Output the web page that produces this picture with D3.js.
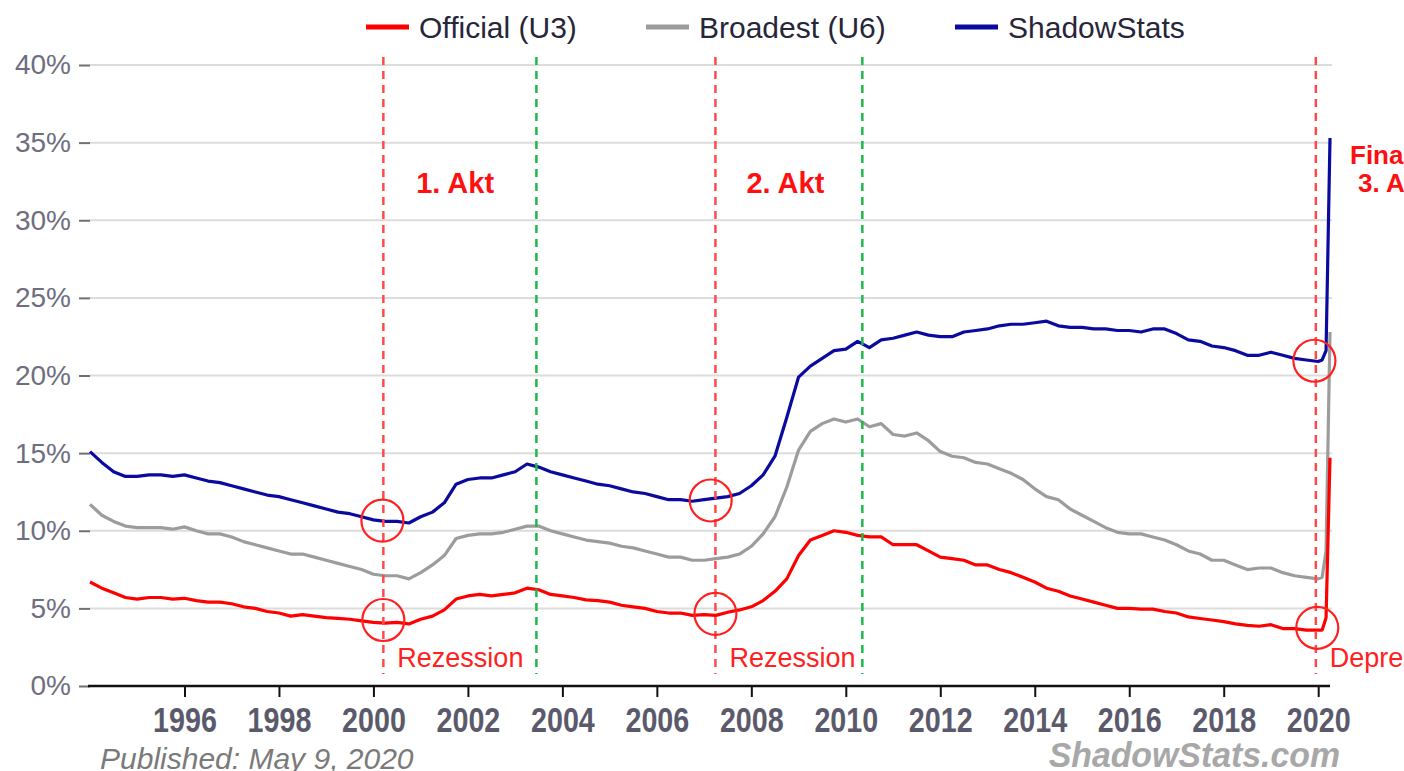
<!DOCTYPE html>
<html>
<head>
<meta charset="utf-8">
<script src="https://cdn.jsdelivr.net/npm/d3@7"></script>
<style>
  body { margin: 0; background: #fff; }
  svg { display: block; }
</style>
</head>
<body>
<svg id="chart" width="1404" height="771"></svg>
<script>
// series names, as in the legend
const seriesNames = ['Official (U3)', 'Broadest (U6)', 'ShadowStats']

// quarterly readings 1994 Q1 .. 2019 Q4, then the monthly values of 2020 (Jan..Apr)
const u3 = [
  6.7, 6.3, 6.0, 5.7,   5.6, 5.7, 5.7, 5.6,   5.65, 5.5, 5.4, 5.4,  5.3, 5.1, 5.0, 4.8,
  4.7, 4.5, 4.6, 4.5,   4.4, 4.35, 4.3, 4.2,  4.1, 4.05, 4.1, 4.0,  4.3, 4.5, 4.9, 5.6,
  5.8, 5.9, 5.8, 5.9,   6.0, 6.3, 6.2, 5.9,   5.8, 5.7, 5.55, 5.5,  5.4, 5.2, 5.1, 5.0,
  4.8, 4.7, 4.7, 4.55,  4.6, 4.55, 4.75, 4.9, 5.1, 5.5, 6.1, 6.9,   8.4, 9.4, 9.7, 10.0,
  9.9, 9.7, 9.6, 9.6,   9.1, 9.1, 9.1, 8.7,   8.3, 8.2, 8.1, 7.8,   7.8, 7.5, 7.3, 7.0,
  6.7, 6.3, 6.1, 5.8,   5.6, 5.4, 5.2, 5.0,   5.0, 4.95, 4.95, 4.8, 4.7, 4.45, 4.35, 4.25,
  4.15, 4.0, 3.9, 3.85, 3.95, 3.7, 3.7, 3.6,
  3.6, 3.6, 4.4, 14.7
]
const u6 = [
  11.7, 11.0, 10.6, 10.3, 10.2, 10.2, 10.2, 10.1, 10.25, 10.0, 9.8, 9.8,  9.6, 9.3, 9.1, 8.9,
  8.7, 8.5, 8.5, 8.3,     8.1, 7.9, 7.7, 7.5,     7.2, 7.1, 7.1, 6.9,      7.3, 7.8, 8.4, 9.5,
  9.7, 9.8, 9.8, 9.9,     10.1, 10.3, 10.3, 10.0, 9.8, 9.6, 9.4, 9.3,      9.2, 9.0, 8.9, 8.7,
  8.5, 8.3, 8.3, 8.1,     8.1, 8.2, 8.3, 8.5,     9.0, 9.8, 10.9, 12.8,    15.2, 16.4, 16.9, 17.2,
  17.0, 17.2, 16.7, 16.9, 16.2, 16.1, 16.3, 15.8, 15.1, 14.8, 14.7, 14.4,  14.3, 14.0, 13.7, 13.3,
  12.7, 12.2, 12.0, 11.4, 11.0, 10.6, 10.2, 9.9,  9.8, 9.8, 9.6, 9.4,      9.1, 8.7, 8.5, 8.1,
  8.1, 7.8, 7.5, 7.6,     7.6, 7.3, 7.1, 7.0,
  6.9, 7.0, 8.7, 22.8
]
const shadow = [
  15.1, 14.4, 13.8, 13.5, 13.5, 13.6, 13.6, 13.5, 13.6, 13.4, 13.2, 13.1,  12.9, 12.7, 12.5, 12.3,
  12.2, 12.0, 11.8, 11.6, 11.4, 11.2, 11.1, 10.9, 10.7, 10.6, 10.6, 10.5,  10.9, 11.2, 11.8, 13.0,
  13.3, 13.4, 13.4, 13.6, 13.8, 14.3, 14.1, 13.8, 13.6, 13.4, 13.2, 13.0,  12.9, 12.7, 12.5, 12.4,
  12.2, 12.0, 12.0, 11.9, 12.0, 12.1, 12.2, 12.4, 12.9, 13.6, 14.8, 17.3,  19.9, 20.6, 21.1, 21.6,
  21.7, 22.2, 21.8, 22.3, 22.4, 22.6, 22.8, 22.6, 22.5, 22.5, 22.8, 22.9,  23.0, 23.2, 23.3, 23.3,
  23.4, 23.5, 23.2, 23.1, 23.1, 23.0, 23.0, 22.9, 22.9, 22.8, 23.0, 23.0,  22.7, 22.3, 22.2, 21.9,
  21.8, 21.6, 21.3, 21.3, 21.5, 21.3, 21.1, 21.0,
  20.9, 21.0, 21.6, 35.3
]

// dates: quarters from 1994 to 2019, then Jan..Apr 2020
const monthDates2020 = [2020.0, 2020 + 1 / 12, 2020 + 2 / 12, 2020.25]
const dates = d3.range(104).map(i => 1994 + i / 4).concat(monthDates2020)

const xTicks = [1996, 1998, 2000, 2002, 2004, 2006, 2008, 2010, 2012, 2014, 2016, 2018, 2020]
const yTicks = [0, 5, 10, 15, 20, 25, 30, 35, 40]

// recessions (red dashed) and turning points (green dashed)
const recessionDates = [2000.21, 2007.24, 2019.95]
const recessionLabels = ['Rezession', 'Rezession', 'Depression']
const turnDates = [2003.45, 2010.35]

// circled points: [date, value]
const circleDates = [2000.19, 2000.21, 2007.14, 2007.24, 2019.92, 2019.98]
const circleValues = [10.65, 4.25, 11.95, 4.65, 20.95, 3.75]

const actLabels = ['1. Akt', '2. Akt']
const actDates = [2001.73, 2008.72]

const svg = d3.select('#chart')

const x = d3.scaleLinear().domain([1994, 2020.25]).range([90, 1330])
const y = d3.scaleLinear().domain([0, 40]).range([686, 65])

const colors = ['#ff0000', '#9c9c9c', '#0a0a9e']

// grid lines
svg.append('g')
  .selectAll('line')
  .data(yTicks.filter(t => t > 0))
  .enter().append('line')
  .attr('x1', x(1994)).attr('x2', x(2020.25) + 2)
  .attr('y1', d => y(d)).attr('y2', d => y(d))
  .attr('stroke', '#dcdcdc')
  .attr('stroke-width', 2)

// y axis: short tick + label
const yAxis = d3.axisLeft(y).tickValues(yTicks).tickSize(11).tickPadding(8).tickFormat(d => d + '%')
const yG = svg.append('g').attr('transform', `translate(${x(1994)},0)`).call(yAxis)
yG.select('.domain').remove()
yG.selectAll('line').attr('stroke', '#707070').attr('stroke-width', 2)
yG.selectAll('text')
  .attr('font-family', '"Liberation Sans", Arial, sans-serif')
  .attr('font-size', 28)
  .attr('fill', '#6e6e80')

// x axis (condensed bold labels)
const xAxis = d3.axisBottom(x).tickValues(xTicks).tickSize(11).tickPadding(10).tickFormat(d3.format('d'))
const xG = svg.append('g').attr('transform', `translate(0,${y(0)})`).call(xAxis)
xG.select('.domain').attr('stroke', '#111').attr('stroke-width', 2.5)
  .attr('d', `M${x(1994) - 2},0H${x(2020.25)}`)
xG.selectAll('line').attr('stroke', '#111').attr('stroke-width', 2)
xG.selectAll('text')
  .attr('font-family', '"Liberation Sans", Arial, sans-serif')
  .attr('font-weight', 'bold')
  .attr('font-size', 35)
  .attr('transform', 'scale(0.82,1)')
  .attr('fill', '#5a5a6c')

// the three series, U6 first so the others sit on top
const line = d3.line().x((d, i) => x(dates[i])).y(d => y(d))
const seriesData = [u3, u6, shadow]
const drawOrder = [1, 0, 2]
drawOrder.forEach(k => {
  svg.append('path')
    .datum(seriesData[k])
    .attr('d', line)
    .attr('fill', 'none')
    .attr('stroke', colors[k])
    .attr('stroke-width', 3.2)
    .attr('stroke-linejoin', 'round')
})

// dashed vertical markers
svg.append('g').selectAll('line')
  .data(recessionDates)
  .enter().append('line')
  .attr('x1', d => x(d)).attr('x2', d => x(d))
  .attr('y1', 57).attr('y2', 674)
  .attr('stroke', '#ff4a4a')
  .attr('stroke-width', 2.5)
  .attr('stroke-dasharray', '8,6')

svg.append('g').selectAll('line')
  .data(turnDates)
  .enter().append('line')
  .attr('x1', d => x(d)).attr('x2', d => x(d))
  .attr('y1', 57).attr('y2', 674)
  .attr('stroke', '#1fb84a')
  .attr('stroke-width', 2.5)
  .attr('stroke-dasharray', '8,6')

// circles
svg.append('g').selectAll('circle')
  .data(circleDates)
  .enter().append('circle')
  .attr('cx', d => x(d))
  .attr('cy', (d, i) => y(circleValues[i]))
  .attr('r', 21)
  .attr('fill', 'none')
  .attr('stroke', '#ff2020')
  .attr('stroke-width', 2.2)

// recession labels
svg.append('g').selectAll('text')
  .data(recessionDates)
  .enter().append('text')
  .attr('x', d => x(d) + 14)
  .attr('y', 667)
  .attr('font-family', '"Liberation Sans", Arial, sans-serif')
  .attr('font-size', 27)
  .attr('fill', '#ff2020')
  .text((d, i) => recessionLabels[i])

// act labels
svg.append('g').selectAll('text')
  .data(actDates)
  .enter().append('text')
  .attr('x', d => x(d))
  .attr('y', 193)
  .attr('text-anchor', 'middle')
  .attr('font-family', '"Liberation Sans", Arial, sans-serif')
  .attr('font-weight', 'bold')
  .attr('font-size', 29)
  .attr('fill', '#ff1010')
  .text((d, i) => actLabels[i])

const finale = svg.append('text')
  .attr('font-family', '"Liberation Sans", Arial, sans-serif')
  .attr('font-weight', 'bold')
  .attr('font-size', 26)
  .attr('fill', '#ff1010')
finale.append('tspan').attr('x', 1350).attr('y', 164).text('Finale')
finale.append('tspan').attr('x', 1358).attr('y', 192).text('3. Akt')

// legend
const legendX = [366, 646, 955]
const legend = svg.append('g').selectAll('g')
  .data(seriesNames)
  .enter().append('g')
  .attr('transform', (d, i) => `translate(${legendX[i]},27)`)
legend.append('line')
  .attr('x1', 0).attr('x2', 43)
  .attr('stroke', (d, i) => colors[i])
  .attr('stroke-width', 5)
legend.append('text')
  .attr('x', 53)
  .attr('dy', '0.35em')
  .attr('font-family', '"Liberation Sans", Arial, sans-serif')
  .attr('font-size', 30)
  .attr('fill', '#262638')
  .text(d => d)

// footer
svg.append('text')
  .attr('x', 100).attr('y', 769)
  .attr('font-family', '"Liberation Sans", Arial, sans-serif')
  .attr('font-style', 'italic')
  .attr('font-size', 30)
  .attr('fill', '#7a7a7a')
  .text('Published: May 9, 2020')

svg.append('text')
  .attr('transform', 'translate(1340,767) scale(0.94,1)')
  .attr('text-anchor', 'end')
  .attr('font-family', '"Liberation Sans", Arial, sans-serif')
  .attr('font-weight', 'bold')
  .attr('font-style', 'italic')
  .attr('font-size', 36)
  .attr('fill', '#a8a8a8')
  .text('ShadowStats.com')
</script>
</body>
</html>
